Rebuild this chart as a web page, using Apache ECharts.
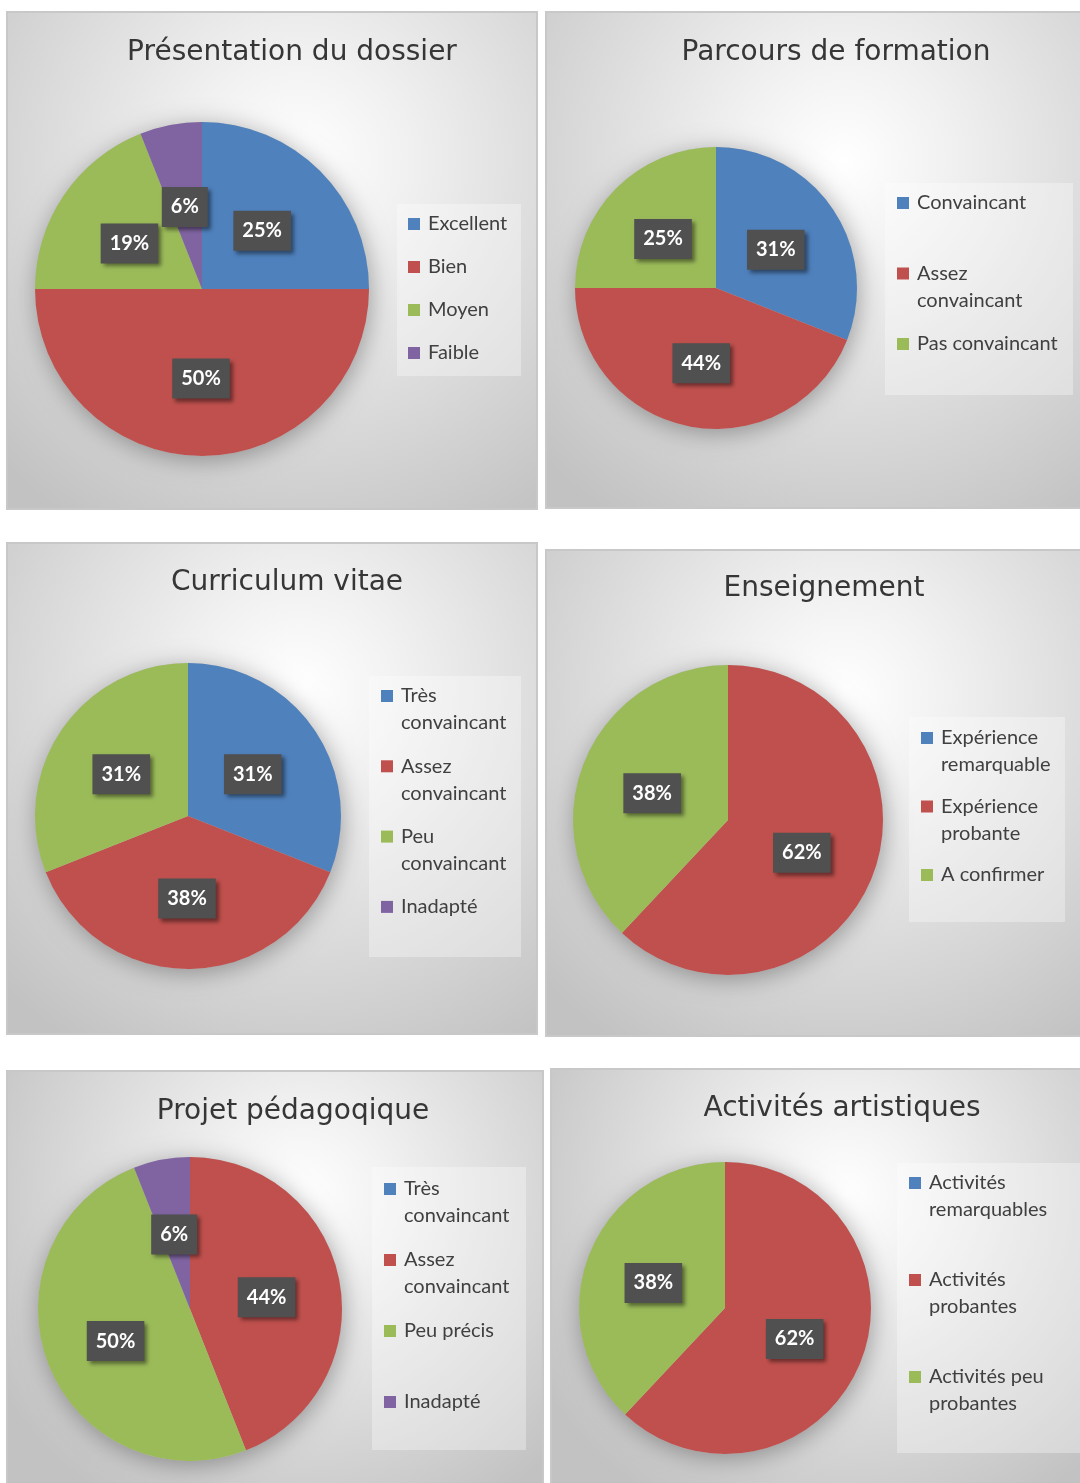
<!DOCTYPE html>
<html>
<head>
<meta charset="utf-8">
<script src="https://cdn.jsdelivr.net/npm/echarts@6/dist/echarts.min.js"></script>
<style>
  html, body { margin: 0; padding: 0; background: #fff; }
  #chart { width: 1080px; height: 1483px; }
</style>
</head>
<body>
<div id="chart"></div>
<script>
// chart data
const titles = ['Présentation du dossier', 'Parcours de formation', 'Curriculum vitae',
                'Enseignement', 'Projet pédagoqique', 'Activités artistiques'];

const cats1 = ['Excellent', 'Bien', 'Moyen', 'Faible'];
const vals1 = [25, 50, 19, 6];
const cats2 = ['Convaincant', 'Assez\nconvaincant', 'Pas convaincant'];
const vals2 = [31, 44, 25];
const cats3 = ['Très\nconvaincant', 'Assez\nconvaincant', 'Peu\nconvaincant', 'Inadapté'];
const vals3 = [31, 38, 31, 0];
const cats4 = ['Expérience\nremarquable', 'Expérience\nprobante', 'A confirmer'];
const vals4 = [0, 62, 38];
const cats5 = ['Très\nconvaincant', 'Assez\nconvaincant', 'Peu précis', 'Inadapté'];
const vals5 = [0, 44, 50, 6];
const cats6 = ['Activités\nremarquables', 'Activités\nprobantes', 'Activités peu\nprobantes'];
const vals6 = [0, 62, 38];

const cats = [cats1, cats2, cats3, cats4, cats5, cats6];
const vals = [vals1, vals2, vals3, vals4, vals5, vals6];

const colors = ['#4F81BD', '#C0504D', '#9BBB59', '#8064A2'];

// layout of the six panels (page pixels)
const layout = [
  {rect: [7, 12, 530, 497],    title: [292, 50],   center: [202, 289],  r: 167, lg: {x: 408, y: 224,  step: 43,   pad: false}, box: [397, 204, 124, 172]},
  {rect: [546, 12, 540, 496],  title: [836, 50],   center: [716, 288],  r: 141, lg: {x: 897, y: 203,  step: 70.5, pad: true},  box: [885, 183, 188, 212]},
  {rect: [7, 543, 530, 491],   title: [287, 580],  center: [188, 816],  r: 153, lg: {x: 381, y: 696,  step: 70.3, pad: true},  box: [369, 676, 152, 281]},
  {rect: [546, 550, 540, 486], title: [824, 586],  center: [728, 820],  r: 155, lg: {x: 921, y: 738,  step: 68.5, pad: true},  box: [909, 717, 156, 205]},
  {rect: [7, 1071, 536, 420],  title: [293, 1109], center: [190, 1309], r: 152, lg: {x: 384, y: 1189, step: 71,   pad: true},  box: [372, 1167, 154, 283]},
  {rect: [551, 1069, 535, 420],title: [842, 1106], center: [725, 1308], r: 146, lg: {x: 909, y: 1183, step: 97,   pad: true},  box: [897, 1163, 185, 290]}
];

const LH = 27; // legend line height

const chart = echarts.init(document.getElementById('chart'));

const graphics = [];
const titleOpts = [];
const legendOpts = [];
const seriesOpts = [];

layout.forEach((p, k) => {
  graphics.push({
    type: 'rect', z: 0, silent: true,
    shape: {x: p.rect[0], y: p.rect[1], width: p.rect[2], height: p.rect[3]},
    style: {
      fill: {
        type: 'radial', x: 0.55, y: 0.3, r: 0.85,
        colorStops: [
          {offset: 0, color: '#ffffff'},
          {offset: 0.25, color: '#f1f1f1'},
          {offset: 1, color: '#c2c2c2'}
        ]
      },
      stroke: '#c8c8c8', lineWidth: 2
    }
  });
  graphics.push({
    type: 'rect', z: 0, silent: true,
    shape: {x: p.box[0], y: p.box[1], width: p.box[2], height: p.box[3]},
    style: {fill: 'rgba(255,255,255,0.32)'}
  });

  titleOpts.push({
    text: titles[k],
    left: p.title[0], top: p.title[1] - 11,
    textAlign: 'center', padding: 0,
    textStyle: {fontFamily: 'DejaVu Sans', fontSize: 28, fontWeight: 'normal', color: '#363636'}
  });

  // two-line entries get an empty first line so the square sits on the first text line;
  // one-line entries get the same height through padding
  const lgData = cats[k].map(name => {
    const item = {name: name};
    if (p.lg.pad) {
      item.textStyle = {padding: name.indexOf('\n') >= 0 ? [0, 0, 0, 3] : [LH, 0, LH, 3]};
    } else {
      item.textStyle = {padding: [0, 0, 0, 3]};
    }
    return item;
  });
  legendOpts.push({
    orient: 'vertical',
    left: p.lg.x,
    top: p.lg.pad ? p.lg.y - 1.5 * LH : p.lg.y - LH / 2,
    padding: 0,
    itemWidth: 12, itemHeight: 12,
    itemGap: p.lg.pad ? p.lg.step - 3 * LH : p.lg.step - LH,
    icon: 'rect',
    selectedMode: false,
    formatter: name => (p.lg.pad && name.indexOf('\n') >= 0) ? '\n' + name : name,
    itemStyle: {borderWidth: 0, shadowBlur: 0},
    textStyle: {
      fontFamily: 'Lato', fontSize: 20, color: '#404040', lineHeight: LH,
      backgroundColor: 'rgba(0,0,0,0)'
    },
    data: lgData
  });

  // soft shadow under the pie
  seriesOpts.push({
    type: 'pie', silent: true, z: 1,
    center: p.center, radius: p.r,
    label: {show: false}, labelLine: {show: false},
    itemStyle: {color: '#bbbbbb', shadowBlur: 24, shadowColor: 'rgba(0,0,0,0.33)', shadowOffsetX: 2, shadowOffsetY: 4},
    data: [{value: 1}]
  });

  seriesOpts.push({
    type: 'pie', z: 3,
    center: p.center, radius: p.r,
    startAngle: 90, clockwise: true,
    avoidLabelOverlap: false,
    silent: true,
    itemStyle: {borderWidth: 0},
    labelLine: {show: false},
    label: {
      show: true, position: 'inside', offset: [-1, 3],
      formatter: d => Math.round(d.percent) + '%',
      color: '#ffffff', fontFamily: 'Lato', fontWeight: 'bold', fontSize: 20, lineHeight: 22,
      backgroundColor: '#505050', padding: [9, 9, 9, 9],
      shadowColor: 'rgba(0,0,0,0.45)', shadowBlur: 4, shadowOffsetX: 3, shadowOffsetY: 3
    },
    data: cats[k].map((name, i) => ({
      name: name,
      value: vals[k][i],
      itemStyle: {color: colors[i]},
      label: {show: vals[k][i] > 0}
    }))
  });
});

chart.setOption({
  backgroundColor: '#ffffff',
  animation: false,
  graphic: {elements: graphics},
  title: titleOpts,
  legend: legendOpts,
  series: seriesOpts
});
</script>
</body>
</html>
